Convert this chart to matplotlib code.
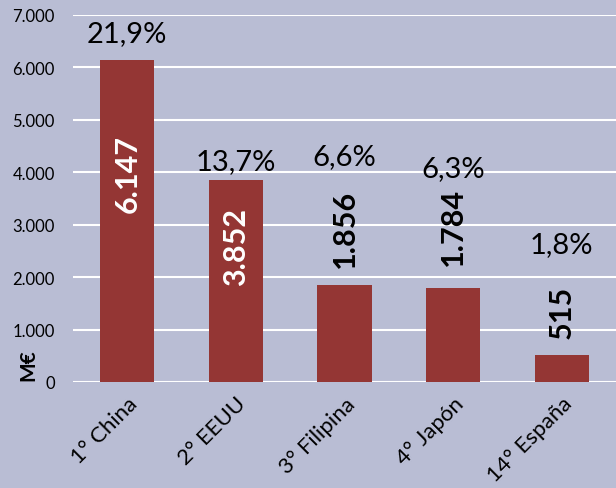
import matplotlib
matplotlib.use("Agg")
import matplotlib.pyplot as plt
import numpy as np

# Data
countries = ["1° China", "2° EEUU", "3° Filipina", "4° Japón", "14° España"]
values = [6147, 3852, 1856, 1784, 515]
value_labels = ["6.147", "3.852", "1.856", "1.784", "515"]
shares = ["21,9%", "13,7%", "6,6%", "6,3%", "1,8%"]

# label placement (data units of the y axis)
value_label_y = [3980, 2600, 2940, 2970, 1340]
share_label_y = [6660, 4220, 4310, 4080, 2630]
value_label_inside = [True, True, False, False, False]

bg = "#b9bdd4"
bar_color = "#943634"

plt.rcParams["font.family"] = ["Lato", "DejaVu Sans"]

fig = plt.figure(figsize=(6.16, 4.89), dpi=100, facecolor=bg)
ax = fig.add_axes([0.1185, 0.2168, 0.8815, 0.7505])
ax.set_facecolor(bg)

x = np.arange(len(countries))
ax.bar(x, values, width=0.5, color=bar_color, zorder=3)

ax.set_xlim(-0.5, 4.5)
ax.set_ylim(0, 7000)
ax.set_yticks(np.arange(0, 7001, 1000))
ax.set_yticklabels([f"{v:,}".replace(",", ".") for v in range(0, 7001, 1000)], fontsize=12)
ax.yaxis.grid(True, color="white", linewidth=1.5, zorder=0)
ax.set_axisbelow(True)
for s in ax.spines.values():
    s.set_visible(False)
ax.tick_params(axis="y", length=0, pad=13)
ax.tick_params(axis="x", length=0, pad=8)

ax.set_xticks(x)
ax.set_xticklabels(countries, rotation=45, ha="right", rotation_mode="anchor", fontsize=16)

for i in range(len(countries)):
    col = "white" if value_label_inside[i] else "black"
    ax.text(x[i], value_label_y[i], value_labels[i], rotation=90, ha="center", va="center",
            fontsize=22, fontweight="bold", color=col, zorder=4)
    ax.text(x[i], share_label_y[i], shares[i], ha="center", va="center", fontsize=21, zorder=4)

fig.text(0.046, 0.253, "M€", rotation=90, ha="center", va="center", fontsize=15, fontweight="bold")

fig.savefig("out.png", dpi=100, facecolor=bg)
